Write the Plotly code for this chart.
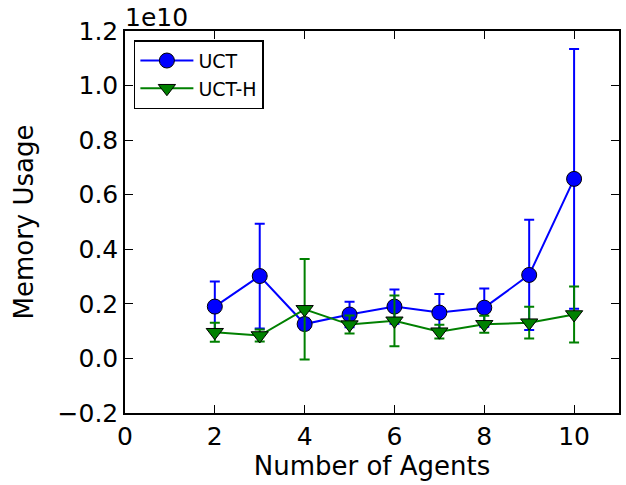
import plotly.graph_objects as go

agents = [2, 3, 4, 5, 6, 7, 8, 9, 10]
uct_mean = [0.190e10, 0.302e10, 0.126e10, 0.161e10, 0.190e10, 0.168e10, 0.186e10, 0.306e10, 0.658e10]
uct_err = [0.092e10, 0.192e10, 0.020e10, 0.047e10, 0.063e10, 0.068e10, 0.070e10, 0.202e10, 0.476e10]
ucth_mean = [0.096e10, 0.084e10, 0.180e10, 0.124e10, 0.138e10, 0.098e10, 0.125e10, 0.131e10, 0.161e10]
ucth_err = [0.035e10, 0.022e10, 0.184e10, 0.033e10, 0.093e10, 0.025e10, 0.031e10, 0.058e10, 0.103e10]
y_ticks = [-0.2e10, 0.0, 0.2e10, 0.4e10, 0.6e10, 0.8e10, 1.0e10, 1.2e10]
y_ticktext = ["\u22120.2", "0.0", "0.2", "0.4", "0.6", "0.8", "1.0", "1.2"]
x_ticks = [0, 2, 4, 6, 8, 10]

FONT = "DejaVu Sans"
TICK = 25
TITLE = 26

fig = go.Figure()
fig.add_trace(go.Scatter(
    x=agents, y=uct_mean, name="UCT", mode="lines+markers",
    line=dict(color="#0000ff", width=2),
    marker=dict(symbol="circle", size=15, color="#0000ff", line=dict(color="black", width=1)),
    error_y=dict(type="data", array=uct_err, visible=True, color="#0000ff", thickness=2, width=5),
))
fig.add_trace(go.Scatter(
    x=agents, y=ucth_mean, name="UCT-H", mode="lines+markers",
    line=dict(color="#008000", width=2),
    marker=dict(symbol="triangle-down", size=15, color="#008000", line=dict(color="black", width=1)),
    error_y=dict(type="data", array=ucth_err, visible=True, color="#008000", thickness=2, width=5),
))

axis_common = dict(
    showgrid=False, zeroline=False, showline=True, linecolor="black", linewidth=1.5,
    mirror="ticks", ticks="inside", ticklen=8, tickwidth=1, tickcolor="black",
    tickfont=dict(family=FONT, size=TICK, color="black"), automargin=False,
)
fig.update_xaxes(range=[0, 11], tickvals=x_ticks, ticktext=[str(v) for v in x_ticks],
                 title=dict(text="Number of Agents", font=dict(family=FONT, size=TITLE, color="black"), standoff=4),
                 **axis_common)
fig.update_yaxes(range=[-0.2e10, 1.2e10], tickvals=y_ticks, ticktext=y_ticktext,
                 title=dict(text="Memory Usage", font=dict(family=FONT, size=TITLE, color="black"), standoff=16),
                 **axis_common)

fig.add_annotation(text="1e10", xref="paper", yref="paper", x=0, y=1.0, xanchor="left", yanchor="bottom",
                   showarrow=False, font=dict(family=FONT, size=TICK, color="black"), xshift=-2, yshift=-3)

fig.update_layout(
    width=626, height=485,
    margin=dict(l=125, r=7, t=31, b=72, autoexpand=False),
    paper_bgcolor="white", plot_bgcolor="white",
    font=dict(family=FONT, color="black"),
    legend=dict(x=0.018, y=0.976, xanchor="left", yanchor="top", itemwidth=53,
                bordercolor="black", borderwidth=1.5, bgcolor="white",
                font=dict(family=FONT, size=19, color="black")),
)

fig.write_html("out.html", config={"displayModeBar": False},
               post_script="document.body.style.margin='0';")
